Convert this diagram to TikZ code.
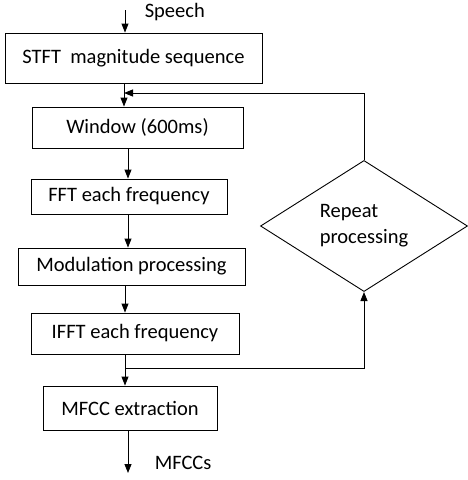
\documentclass[tikz,border=0pt]{standalone}
\usepackage{fontspec}
\setmainfont{Carlito}
\usetikzlibrary{arrows.meta,shapes.geometric}
\begin{document}
\begin{tikzpicture}[x=1pt,y=-1pt, line width=0.9pt,
  txt/.style={font=\fontsize{20.5}{26}\selectfont},
  box/.style={draw, inner sep=0pt, txt},
  arr/.style={-{Triangle[length=9pt,width=7pt]}}]
\useasboundingbox (0,0) rectangle (467,480);
\node[box, minimum width=257pt, minimum height=50pt] (stft) at (133.5,58) {STFT\ \ magnitude sequence\hspace{7pt}};
\node[box, minimum width=211pt, minimum height=41pt] (win) at (137.5,127.5) {Window (600ms)\hspace{17pt}};
\node[box, minimum width=196pt, minimum height=35pt] (fft) at (129,196.5) {FFT each frequency};
\node[box, minimum width=227pt, minimum height=37pt] (mod) at (131.5,266.5) {Modulation processing\hspace{5pt}};
\node[box, minimum width=208pt, minimum height=41pt] (ifft) at (135,333.5) {IFFT each frequency\hspace{4pt}};
\node[box, minimum width=174pt, minimum height=44pt] (mfcc) at (130,408) {MFCC extraction\hspace{6pt}};
\node[diamond, draw, minimum width=207pt, minimum height=116pt, inner sep=0pt, align=left, txt] (rep) at (364,226) {Repeat\\processing};
% input
\coordinate (sp) at (125,10);
\draw[arr] (sp) -- (sp |- stft.north);
\node[txt, anchor=west] (speech) at (141,12) {Speech};
% chain
\draw[arr] (stft.south -| 124,0) -- (win.north -| 124,0);
\coordinate (fb) at (124,93);
\draw[arr] (rep.north) |- (fb);
\draw[arr] (win.south -| 128,0) -- (fft.north -| 128,0);
\draw[arr] (fft.south -| 128,0) -- (mod.north -| 128,0);
\draw[arr] (mod.south -| 125,0) -- (ifft.north -| 125,0);
\draw[arr] (ifft.south -| 125,0) -- (mfcc.north -| 125,0);
\coordinate (br) at (125,368);
\draw[arr] (br) -| (rep.south);
\coordinate (out) at (128,473);
\draw[arr] (mfcc.south -| out) -- (out);
\node[txt, anchor=west] (mfccs) at (151,463) {MFCCs};
\end{tikzpicture}
\end{document}
